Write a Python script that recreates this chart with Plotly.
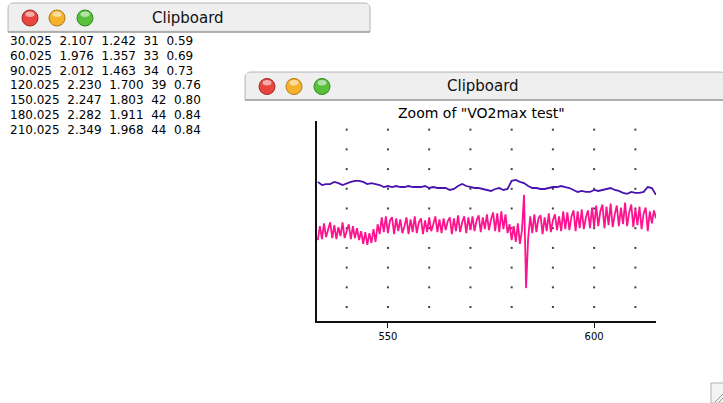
import plotly.graph_objects as go

# ---------------- data ----------------
table_rows = [
    ["30.025", "2.107", "1.242", "31", "0.59"],
    ["60.025", "1.976", "1.357", "33", "0.69"],
    ["90.025", "2.012", "1.463", "34", "0.73"],
    ["120.025", "2.230", "1.700", "39", "0.76"],
    ["150.025", "2.247", "1.803", "42", "0.80"],
    ["180.025", "2.282", "1.911", "44", "0.84"],
    ["210.025", "2.349", "1.968", "44", "0.84"],
]

x_ticks = [550, 600]
grid_x = [540, 550, 560, 570, 580, 590, 600, 610]
grid_y = [0, 1, 2, 3, 4, 5, 6, 7, 8, 9]

purple_start, purple_step = 533.0, 1.0
purple_values = [
    6.35, 6.19, 6.24, 6.24, 6.35, 6.29, 6.19, 6.29, 6.35, 6.40,
    6.40, 6.35, 6.24, 6.29, 6.24, 6.19, 6.09, 6.14, 6.09, 6.14,
    6.09, 6.09, 6.14, 6.09, 6.09, 6.09, 6.14, 6.04, 6.09, 6.04,
    6.04, 6.04, 5.94, 5.99, 6.14, 6.24, 6.14, 6.09, 6.04, 6.04,
    5.99, 5.94, 5.89, 5.99, 6.04, 5.94, 5.99, 6.40, 6.45, 6.35,
    6.29, 6.14, 6.04, 6.04, 5.99, 5.99, 6.04, 6.09, 6.09, 6.14,
    6.09, 6.04, 5.94, 5.84, 5.89, 5.84, 5.84, 5.94, 5.89, 5.94,
    5.99, 6.04, 5.94, 5.89, 5.79, 5.74, 5.84, 5.79, 5.79, 5.84,
    6.09, 6.04, 5.69,
]

pink_start, pink_step = 533.0, 0.5
pink_values = [
    # 533.0 - 543.0
    3.40, 4.10, 3.45, 4.25, 3.55, 3.95, 4.30, 3.50, 4.15, 3.45, 4.05,
    3.60, 4.30, 3.50, 3.90, 4.20, 3.45, 4.10, 3.50, 4.00, 3.40,
    # 543.5 - 547.5
    3.85, 3.20, 3.80, 3.15, 3.75, 3.25, 3.95, 3.30, 4.20,
    # 548.0 - 575.0
    3.70, 4.55, 3.80, 4.60, 3.75, 4.40, 4.55, 3.70, 4.50, 3.85,
    4.45, 3.75, 4.10, 4.55, 3.70, 4.45, 3.80, 4.60, 3.75, 4.30,
    4.50, 3.70, 4.40, 3.80, 4.55, 3.85, 4.20, 4.60, 3.80, 4.45,
    3.75, 4.50, 3.90, 4.35, 4.55, 3.70, 4.50, 3.85, 4.65, 3.80,
    4.30, 4.60, 3.75, 4.55, 3.90, 4.60, 3.85, 4.40, 4.65, 3.80,
    4.55, 3.95, 4.70, 3.90, 4.45,
    # 575.5 - 579.0
    4.80, 3.85, 4.75, 3.80, 4.85, 3.95, 4.70, 3.75,
    # 579.5 - 584.0 (artefact spike)
    4.20, 3.40, 4.10, 3.30, 4.25, 3.20, 3.90, 5.69, 0.96, 3.50,
    # 584.5 - 592.0
    4.60, 3.75, 4.70, 3.80, 4.50, 4.65, 3.70, 4.55, 3.85, 4.75,
    3.80, 4.40, 4.70, 3.90, 4.60, 3.85,
    # 592.5 - 599.0
    4.85, 3.95, 4.80, 3.90, 4.60, 4.90, 3.85, 4.85, 4.00, 4.95,
    3.95, 4.55, 4.90, 4.00,
    # 599.5 - 612.5
    5.05, 4.05, 5.15, 4.10, 4.85, 5.20, 4.00, 5.10, 4.15, 5.25,
    4.05, 4.70, 5.15, 4.10, 5.05, 4.20, 5.30, 4.10, 4.80, 5.20,
    4.05, 5.00, 4.15, 5.10, 3.95, 4.75, 5.05,
    # 613.0 - 615.0
    3.85, 4.85, 4.25, 4.90, 4.50,
]

chart_title = 'Zoom of "VO2max test"'
window_title = "Clipboard"

# ---------------- helpers ----------------
W, H = 723, 403


def px(x):
    return x / W


def py(y):
    return 1 - y / H


purple_time = [purple_start + purple_step * i for i in range(len(purple_values))]
pink_time = [pink_start + pink_step * i for i in range(len(pink_values))]

dots_x = [gx for gx in grid_x for _ in grid_y]
dots_y = [gy for _ in grid_x for gy in grid_y]

fig = go.Figure()
fig.add_trace(go.Scatter(x=dots_x, y=dots_y, mode="markers",
                         marker=dict(size=2, color="#444444", symbol="square"),
                         hoverinfo="skip"))
fig.add_trace(go.Scatter(x=purple_time, y=purple_values, mode="lines",
                         line=dict(color="#4A12B2", width=1.8), hoverinfo="skip"))
fig.add_trace(go.Scatter(x=pink_time, y=pink_values, mode="lines",
                         line=dict(color="#FF128E", width=1.8), hoverinfo="skip"))

shapes = []
annotations = []


def title_bar(x0, x1, y0, y1, r=6):
    # rounded-top title bar path
    p = (f"M {px(x0)},{py(y1)} L {px(x0)},{py(y0 + r)} "
         f"Q {px(x0)},{py(y0)} {px(x0 + r)},{py(y0)} "
         f"L {px(x1 - r)},{py(y0)} Q {px(x1)},{py(y0)} {px(x1)},{py(y0 + r)} "
         f"L {px(x1)},{py(y1)} Z")
    shapes.append(dict(type="path", path=p, xref="paper", yref="paper",
                       fillcolor="#E8E8E8", line=dict(color="#B8B8B8", width=1)))
    yy = y0 + 2
    while yy < y1 - 1:
        shapes.append(dict(type="line", xref="paper", yref="paper",
                           x0=px(x0 + 1), x1=px(x1 - 1), y0=py(yy), y1=py(yy),
                           line=dict(color="#F6F6F6", width=1)))
        yy += 2
    shapes.append(dict(type="line", xref="paper", yref="paper",
                       x0=px(x0), x1=px(x1), y0=py(y1), y1=py(y1),
                       line=dict(color="#8A8A8A", width=1)))


def button(cx, cy, fill, edge, r=8):
    shapes.append(dict(type="circle", xref="paper", yref="paper",
                       x0=px(cx - r), x1=px(cx + r), y0=py(cy + r), y1=py(cy - r),
                       fillcolor=fill, line=dict(color=edge, width=1)))
    shapes.append(dict(type="circle", xref="paper", yref="paper",
                       x0=px(cx - 4.5), x1=px(cx + 4.5), y0=py(cy - 1), y1=py(cy - 6.5),
                       fillcolor="rgba(255,255,255,0.55)", line=dict(width=0)))


def window(x0, x1, y0, y1):
    title_bar(x0, x1, y0, y1)
    cy = (y0 + y1) / 2 + 0.5
    button(x0 + 22, cy, "#E8453E", "#9E2A24")
    button(x0 + 49, cy, "#F5B22B", "#B07A10")
    button(x0 + 77, cy, "#58C03A", "#2F8A1E")
    annotations.append(dict(text=window_title, xref="paper", yref="paper",
                            x=px((x0 + min(x1, W)) / 2 - 1), y=py(cy), showarrow=False,
                            xanchor="center", yanchor="middle",
                            font=dict(family="DejaVu Sans", size=15, color="#111111")))


window(8, 370, 3, 32)
# left window text
for i, row in enumerate(table_rows):
    annotations.append(dict(text="\u00a0\u00a0".join(row), xref="paper", yref="paper",
                            x=px(8), y=py(41 + 14.8 * i), showarrow=False,
                            xanchor="left", yanchor="middle",
                            font=dict(family="DejaVu Sans", size=12, color="#000000")))

window(245, 726, 72, 100)

# chart title
annotations.append(dict(text=chart_title, xref="paper", yref="paper",
                        x=px(481), y=py(113), showarrow=False,
                        xanchor="center", yanchor="middle",
                        font=dict(family="DejaVu Sans", size=14, color="#000000")))

# resize grip
shapes.append(dict(type="rect", xref="paper", yref="paper",
                   x0=px(711), x1=px(724), y0=py(403), y1=py(383),
                   fillcolor="#F4F4F4", line=dict(color="#B0B0B0", width=1)))
for d in (4, 8):
    shapes.append(dict(type="line", xref="paper", yref="paper",
                       x0=px(723 - d), y0=py(402), x1=px(723), y1=py(402 - d),
                       line=dict(color="#9A9A9A", width=1)))

fig.update_layout(
    width=W, height=H,
    margin=dict(l=0, r=0, t=0, b=0),
    paper_bgcolor="white", plot_bgcolor="white",
    showlegend=False,
    shapes=shapes, annotations=annotations,
    xaxis=dict(domain=[px(317), px(656)], range=[532.8, 615.0],
               tickvals=x_ticks, ticktext=[str(t) for t in x_ticks],
               ticks="outside", ticklen=5, tickwidth=1.2, tickcolor="#111111",
               showline=True, linecolor="#111111", linewidth=1.5,
               showgrid=False, zeroline=False,
               tickfont=dict(family="DejaVu Sans", size=10, color="#000000")),
    yaxis=dict(domain=[py(321), py(121)], range=[-0.71, 9.44],
               showline=True, linecolor="#111111", linewidth=1.5,
               showticklabels=False, ticks="", showgrid=False, zeroline=False),
)

fig.write_html(
    "out.html",
    config={"displayModeBar": False},
    post_script="document.body.style.margin='0';document.body.style.overflow='hidden';",
)
